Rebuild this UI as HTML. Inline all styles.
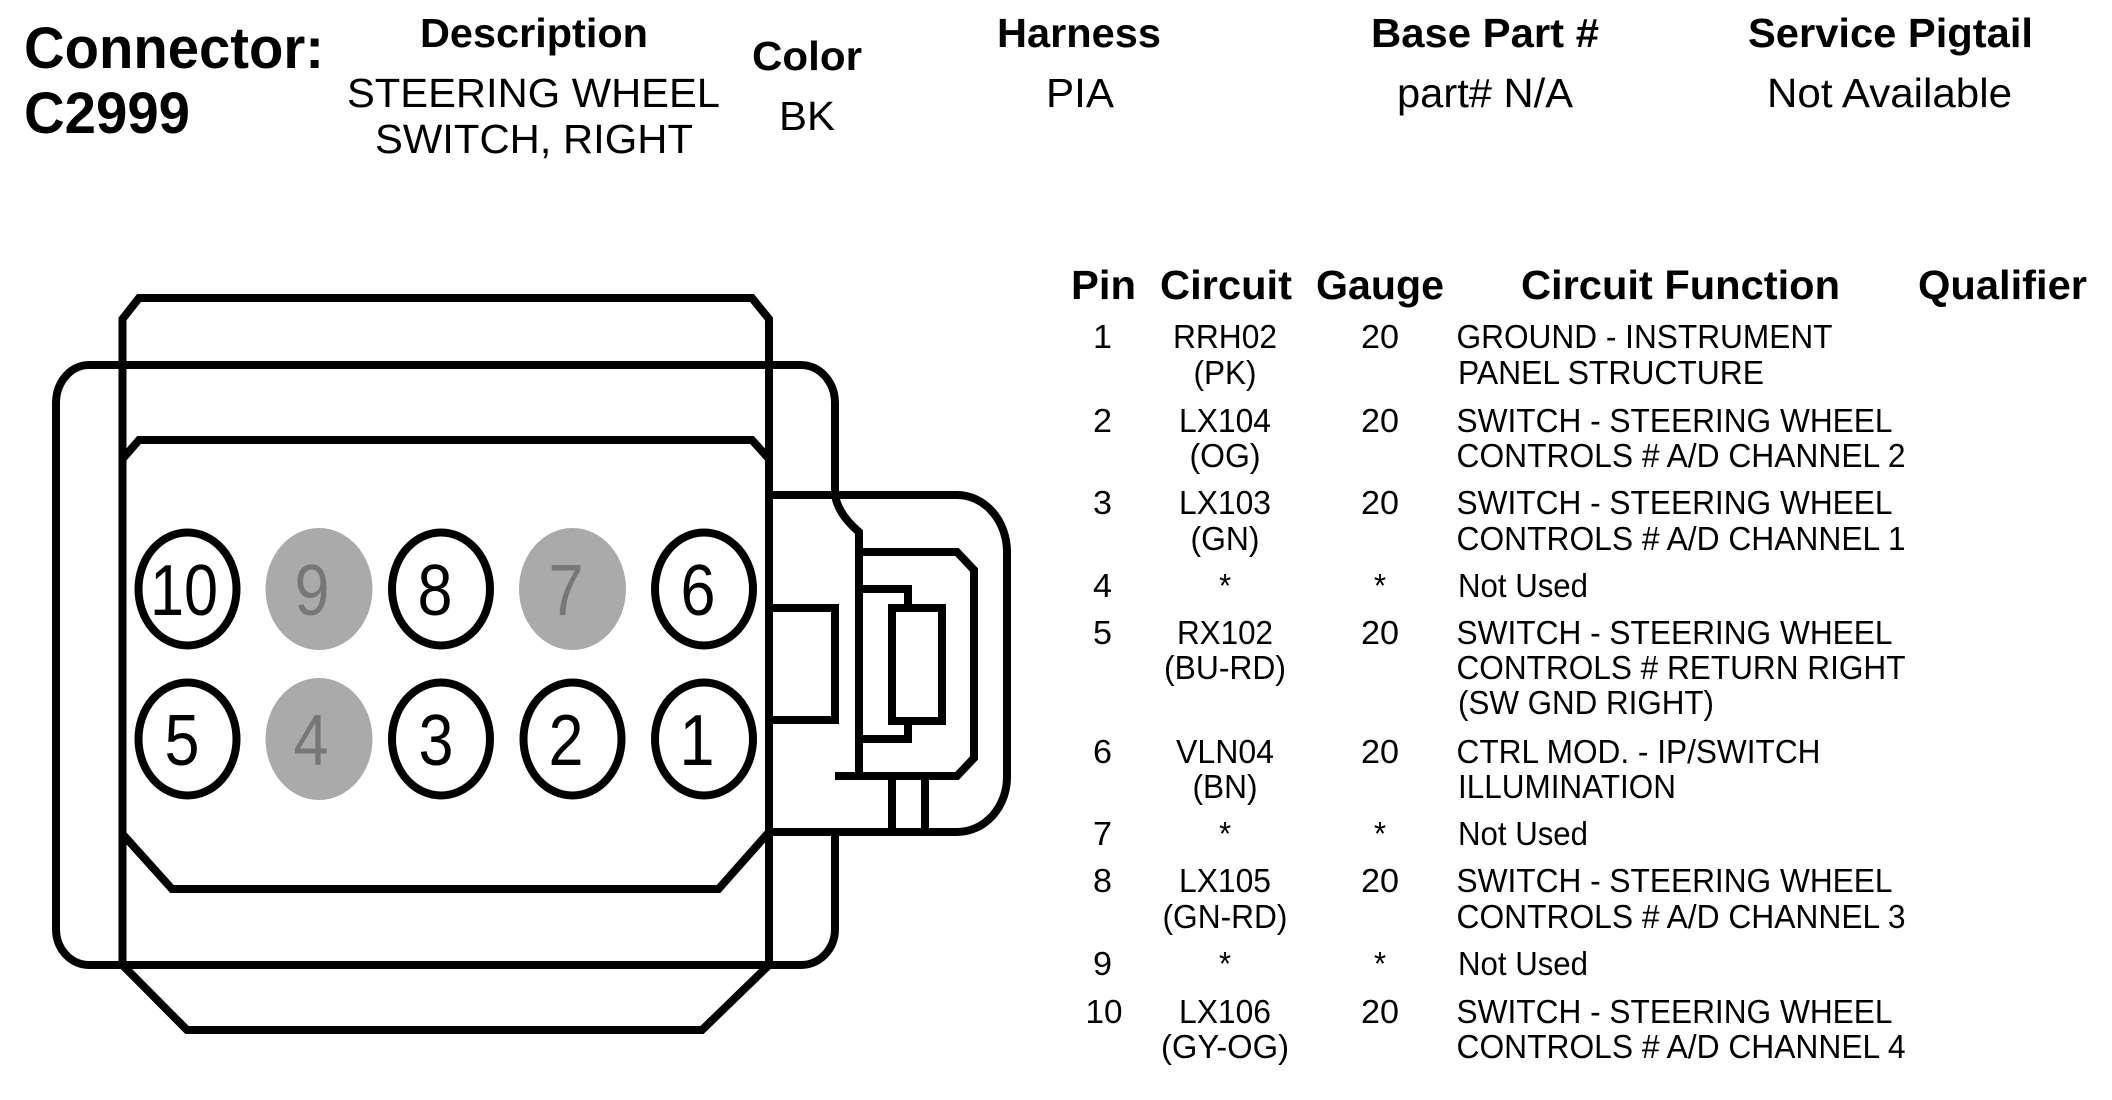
<!DOCTYPE html>
<html><head><meta charset="utf-8"><style>
html,body{margin:0;padding:0;background:#fff;width:2112px;height:1100px;overflow:hidden}
svg{display:block}
text{font-family:"Liberation Sans",sans-serif;fill:#000}
.h{font-weight:bold;font-size:41px}
.v{font-size:41px}
.t{font-size:33px}
.n{font-size:72px}
.m{text-anchor:middle}
.g{fill:#777}
.l{fill:none;stroke:#000;stroke-width:8}
</style></head><body>
<svg width="2112" height="1100" viewBox="0 0 2112 1100" xmlns="http://www.w3.org/2000/svg">
<g class="l">
<path d="M122.5 965V319L139 298H752L769 319V965"/>
<path d="M122.5 965L187 1030H702L769 965"/>
<path d="M835 495V403A34 38 0 0 0 801 365H89A33 38 0 0 0 56 403V929A33 36 0 0 0 89 965H801A34 36 0 0 0 835 929V832"/>
<path d="M122.5 459L139 440H752L769 459"/>
<path d="M122.5 834L172 889H718.5L769 832"/>
<path d="M769 495H957A50 57 0 0 1 1007 552V777A50 55 0 0 1 957 832H769"/>
<path d="M835 495Q838 514 859 532V776"/>
<path d="M859 552H957L974 570V758L957 776H835"/>
<path d="M769 608H835V720H769"/>
<rect x="892" y="608" width="50" height="113"/>
<path d="M859 589H908V608M859 739H908V721"/>
<path d="M892 776V832M925 776V832"/>
</g>
<g fill="#fff" stroke="#000" stroke-width="8">
<ellipse cx="187.5" cy="589" rx="49" ry="56.5"/>
<ellipse cx="441" cy="589" rx="49" ry="56.5"/>
<ellipse cx="704" cy="589" rx="49" ry="56.5"/>
<ellipse cx="187.5" cy="739" rx="49" ry="56.5"/>
<ellipse cx="441" cy="739" rx="49" ry="56.5"/>
<ellipse cx="572.5" cy="739" rx="49" ry="56.5"/>
<ellipse cx="704" cy="739" rx="49" ry="56.5"/>
</g>
<g fill="#aaa">
<ellipse cx="319" cy="589" rx="53.5" ry="61"/>
<ellipse cx="572.5" cy="589" rx="53.5" ry="61"/>
<ellipse cx="319" cy="739" rx="53.5" ry="61"/>
</g>
<g class="n m">
<text class="n m" x="184" y="615" textLength="68" lengthAdjust="spacingAndGlyphs">10</text>
<text class="n m g" x="312" y="615" textLength="35" lengthAdjust="spacingAndGlyphs">9</text>
<text class="n m" x="435" y="615" textLength="35" lengthAdjust="spacingAndGlyphs">8</text>
<text class="n m g" x="566" y="615" textLength="35" lengthAdjust="spacingAndGlyphs">7</text>
<text class="n m" x="698" y="615" textLength="35" lengthAdjust="spacingAndGlyphs">6</text>
<text class="n m" x="182" y="765" textLength="35" lengthAdjust="spacingAndGlyphs">5</text>
<text class="n m g" x="311" y="765" textLength="35" lengthAdjust="spacingAndGlyphs">4</text>
<text class="n m" x="436" y="765" textLength="35" lengthAdjust="spacingAndGlyphs">3</text>
<text class="n m" x="566" y="765" textLength="35" lengthAdjust="spacingAndGlyphs">2</text>
<text class="n m" x="697" y="765" textLength="35" lengthAdjust="spacingAndGlyphs">1</text>
</g>

<text x="24" y="68" font-size="58" font-weight="bold" textLength="300" lengthAdjust="spacingAndGlyphs">Connector:</text>
<text x="24" y="133" font-size="58" font-weight="bold" textLength="166" lengthAdjust="spacingAndGlyphs">C2999</text>
<text class="h" x="420" y="47" textLength="228" lengthAdjust="spacingAndGlyphs">Description</text>
<text class="v" x="347" y="107" textLength="373" lengthAdjust="spacingAndGlyphs">STEERING WHEEL</text>
<text class="v" x="375" y="153" textLength="318" lengthAdjust="spacingAndGlyphs">SWITCH, RIGHT</text>
<text class="h" x="752" y="70" textLength="110" lengthAdjust="spacingAndGlyphs">Color</text>
<text class="v" x="779" y="130" textLength="56" lengthAdjust="spacingAndGlyphs">BK</text>
<text class="h" x="997" y="47" textLength="164" lengthAdjust="spacingAndGlyphs">Harness</text>
<text class="v" x="1046" y="107" textLength="68" lengthAdjust="spacingAndGlyphs">PIA</text>
<text class="h" x="1371" y="47" textLength="228" lengthAdjust="spacingAndGlyphs">Base Part #</text>
<text class="v" x="1397" y="107" textLength="176" lengthAdjust="spacingAndGlyphs">part# N/A</text>
<text class="h" x="1748" y="47" textLength="285" lengthAdjust="spacingAndGlyphs">Service Pigtail</text>
<text class="v" x="1767" y="107" textLength="245" lengthAdjust="spacingAndGlyphs">Not Available</text>

<text class="h" x="1071" y="299" textLength="65" lengthAdjust="spacingAndGlyphs">Pin</text>
<text class="h" x="1160" y="299" textLength="132" lengthAdjust="spacingAndGlyphs">Circuit</text>
<text class="h" x="1316" y="299" textLength="128" lengthAdjust="spacingAndGlyphs">Gauge</text>
<text class="h" x="1521" y="299" textLength="319" lengthAdjust="spacingAndGlyphs">Circuit Function</text>
<text class="h" x="1918" y="299" textLength="169" lengthAdjust="spacingAndGlyphs">Qualifier</text>

<g class="t">
<text class="t m" x="1102.5" y="348" textLength="19" lengthAdjust="spacingAndGlyphs">1</text>
<text class="t m" x="1225" y="348" textLength="104" lengthAdjust="spacingAndGlyphs">RRH02</text>
<text class="t m" x="1225" y="384" textLength="63" lengthAdjust="spacingAndGlyphs">(PK)</text>
<text class="t m" x="1380" y="348" textLength="38" lengthAdjust="spacingAndGlyphs">20</text>
<text class="t" x="1456.5" y="348" textLength="376" lengthAdjust="spacingAndGlyphs">GROUND - INSTRUMENT</text>
<text class="t" x="1458" y="384" textLength="306" lengthAdjust="spacingAndGlyphs">PANEL STRUCTURE</text>

<text class="t m" x="1102.5" y="432" textLength="19" lengthAdjust="spacingAndGlyphs">2</text>
<text class="t m" x="1225" y="432" textLength="92" lengthAdjust="spacingAndGlyphs">LX104</text>
<text class="t m" x="1225" y="467" textLength="71" lengthAdjust="spacingAndGlyphs">(OG)</text>
<text class="t m" x="1380" y="432" textLength="38" lengthAdjust="spacingAndGlyphs">20</text>
<text class="t" x="1456.5" y="432" textLength="436" lengthAdjust="spacingAndGlyphs">SWITCH - STEERING WHEEL</text>
<text class="t" x="1456.5" y="467" textLength="449" lengthAdjust="spacingAndGlyphs">CONTROLS # A/D CHANNEL 2</text>

<text class="t m" x="1102.5" y="514" textLength="19" lengthAdjust="spacingAndGlyphs">3</text>
<text class="t m" x="1225" y="514" textLength="92" lengthAdjust="spacingAndGlyphs">LX103</text>
<text class="t m" x="1225" y="550" textLength="69" lengthAdjust="spacingAndGlyphs">(GN)</text>
<text class="t m" x="1380" y="514" textLength="38" lengthAdjust="spacingAndGlyphs">20</text>
<text class="t" x="1456.5" y="514" textLength="436" lengthAdjust="spacingAndGlyphs">SWITCH - STEERING WHEEL</text>
<text class="t" x="1456.5" y="550" textLength="449" lengthAdjust="spacingAndGlyphs">CONTROLS # A/D CHANNEL 1</text>

<text class="t m" x="1102.5" y="597" textLength="19" lengthAdjust="spacingAndGlyphs">4</text>
<text class="t m" x="1225" y="597" textLength="12" lengthAdjust="spacingAndGlyphs">*</text>
<text class="t m" x="1380" y="597" textLength="12" lengthAdjust="spacingAndGlyphs">*</text>
<text class="t" x="1458" y="597" textLength="130" lengthAdjust="spacingAndGlyphs">Not Used</text>

<text class="t m" x="1102.5" y="644" textLength="19" lengthAdjust="spacingAndGlyphs">5</text>
<text class="t m" x="1225" y="644" textLength="96" lengthAdjust="spacingAndGlyphs">RX102</text>
<text class="t m" x="1225" y="679" textLength="122" lengthAdjust="spacingAndGlyphs">(BU-RD)</text>
<text class="t m" x="1380" y="644" textLength="38" lengthAdjust="spacingAndGlyphs">20</text>
<text class="t" x="1456.5" y="644" textLength="436" lengthAdjust="spacingAndGlyphs">SWITCH - STEERING WHEEL</text>
<text class="t" x="1456.5" y="679" textLength="449" lengthAdjust="spacingAndGlyphs">CONTROLS # RETURN RIGHT</text>
<text class="t" x="1458" y="714" textLength="256" lengthAdjust="spacingAndGlyphs">(SW GND RIGHT)</text>

<text class="t m" x="1102.5" y="763" textLength="19" lengthAdjust="spacingAndGlyphs">6</text>
<text class="t m" x="1225" y="763" textLength="98" lengthAdjust="spacingAndGlyphs">VLN04</text>
<text class="t m" x="1225" y="798" textLength="65" lengthAdjust="spacingAndGlyphs">(BN)</text>
<text class="t m" x="1380" y="763" textLength="38" lengthAdjust="spacingAndGlyphs">20</text>
<text class="t" x="1456.5" y="763" textLength="364" lengthAdjust="spacingAndGlyphs">CTRL MOD. - IP/SWITCH</text>
<text class="t" x="1458" y="798" textLength="218" lengthAdjust="spacingAndGlyphs">ILLUMINATION</text>

<text class="t m" x="1102.5" y="845" textLength="19" lengthAdjust="spacingAndGlyphs">7</text>
<text class="t m" x="1225" y="845" textLength="12" lengthAdjust="spacingAndGlyphs">*</text>
<text class="t m" x="1380" y="845" textLength="12" lengthAdjust="spacingAndGlyphs">*</text>
<text class="t" x="1458" y="845" textLength="130" lengthAdjust="spacingAndGlyphs">Not Used</text>

<text class="t m" x="1102.5" y="892" textLength="19" lengthAdjust="spacingAndGlyphs">8</text>
<text class="t m" x="1225" y="892" textLength="92" lengthAdjust="spacingAndGlyphs">LX105</text>
<text class="t m" x="1225" y="928" textLength="125" lengthAdjust="spacingAndGlyphs">(GN-RD)</text>
<text class="t m" x="1380" y="892" textLength="38" lengthAdjust="spacingAndGlyphs">20</text>
<text class="t" x="1456.5" y="892" textLength="436" lengthAdjust="spacingAndGlyphs">SWITCH - STEERING WHEEL</text>
<text class="t" x="1456.5" y="928" textLength="449" lengthAdjust="spacingAndGlyphs">CONTROLS # A/D CHANNEL 3</text>

<text class="t m" x="1102.5" y="975" textLength="19" lengthAdjust="spacingAndGlyphs">9</text>
<text class="t m" x="1225" y="975" textLength="12" lengthAdjust="spacingAndGlyphs">*</text>
<text class="t m" x="1380" y="975" textLength="12" lengthAdjust="spacingAndGlyphs">*</text>
<text class="t" x="1458" y="975" textLength="130" lengthAdjust="spacingAndGlyphs">Not Used</text>

<text class="t m" x="1104" y="1023" textLength="37" lengthAdjust="spacingAndGlyphs">10</text>
<text class="t m" x="1225" y="1023" textLength="92" lengthAdjust="spacingAndGlyphs">LX106</text>
<text class="t m" x="1225" y="1058" textLength="128" lengthAdjust="spacingAndGlyphs">(GY-OG)</text>
<text class="t m" x="1380" y="1023" textLength="38" lengthAdjust="spacingAndGlyphs">20</text>
<text class="t" x="1456.5" y="1023" textLength="436" lengthAdjust="spacingAndGlyphs">SWITCH - STEERING WHEEL</text>
<text class="t" x="1456.5" y="1058" textLength="449" lengthAdjust="spacingAndGlyphs">CONTROLS # A/D CHANNEL 4</text>
</g>
</svg>
</body></html>
